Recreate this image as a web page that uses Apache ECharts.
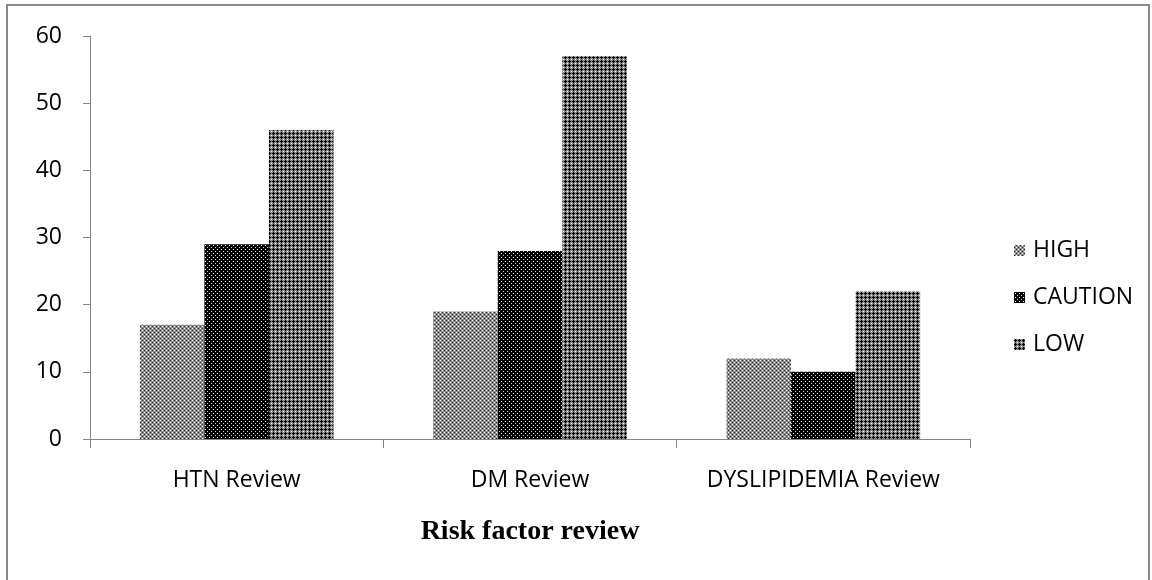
<!DOCTYPE html>
<html><head><meta charset="utf-8">
<script src="https://cdn.jsdelivr.net/npm/echarts@6/dist/echarts.min.js"></script>
<style>html,body{margin:0;padding:0;background:#fff}#c{width:1152px;height:580px}</style>
</head><body><div id="c"></div>
<script>
const categories = ['HTN Review', 'DM Review', 'DYSLIPIDEMIA Review'];
const seriesNames = ['HIGH', 'CAUTION', 'LOW'];
const highValues = [17, 19, 12];
const cautionValues = [29, 28, 10];
const lowValues = [46, 57, 22];
const yTicks = [0, 10, 20, 30, 40, 50, 60];

function pattern(size, bg, pix) {
  const c = document.createElement('canvas');
  c.width = size; c.height = size;
  const g = c.getContext('2d');
  g.fillStyle = bg; g.fillRect(0, 0, size, size);
  pix.forEach(p => { g.fillStyle = p[2]; g.fillRect(p[0], p[1], 1, 1); });
  return { image: c, repeat: 'repeat' };
}
const W = '#ffffff', B = '#000000';
const highPat = pattern(4, '#8c8c8c', [[0,0,W],[2,2,W],[2,0,'#333'],[0,2,'#333']]);
const cautionPat = pattern(4, '#000', [[1,1,W],[3,3,'#cfcfcf']]);
const lowPat = pattern(4, '#8a8a8a', [[1,0,B],[0,1,B],[1,1,B],[2,1,B],[1,2,B],[3,3,W]]);
const pats = [highPat, cautionPat, lowPat];
const dataArr = [highValues, cautionValues, lowValues];

const chart = echarts.init(document.getElementById('c'));
chart.setOption({
  animation: false,
  textStyle: { fontFamily: 'Open Sans' },
  graphic: [{ type: 'rect', shape: { x: 7, y: 5, width: 1142, height: 580 }, style: { fill: 'none', stroke: '#888', lineWidth: 2 } }],
  grid: { left: 90, right: 182, top: 36, bottom: 141 },
  legend: {
    orient: 'vertical', left: 1009, top: 234, itemWidth: 11, itemHeight: 11, itemGap: 24,
    icon: 'rect', textStyle: { fontSize: 23, color: '#000', fontFamily: 'Open Sans', padding: [0,0,0,3] },
    data: seriesNames.map((n, i) => ({ name: n, itemStyle: { color: pats[i] } }))
  },
  xAxis: {
    type: 'category', data: categories,
    axisLine: { lineStyle: { color: '#868686', width: 1 } },
    axisTick: { show: true, length: 9, lineStyle: { color: '#868686' } },
    axisLabel: { interval: 0, fontSize: 23, color: '#000', margin: 30, fontFamily: 'Open Sans' },
    name: 'Risk factor review', nameLocation: 'middle', nameGap: 79,
    nameTextStyle: { fontFamily: 'Liberation Serif', fontWeight: 'bold', fontSize: 28, color: '#000' }
  },
  yAxis: {
    type: 'value', min: 0, max: 60, interval: 10,
    axisLine: { show: true, lineStyle: { color: '#868686', width: 1 } },
    axisTick: { show: true, length: 7, lineStyle: { color: '#868686' } },
    axisLabel: { fontSize: 23, color: '#000', margin: 28, fontFamily: 'Open Sans',
      formatter: v => yTicks.includes(v) ? String(v) : '' },
    splitLine: { show: false }
  },
  series: seriesNames.map((n, i) => ({
    name: n, type: 'bar', data: dataArr[i], barWidth: '22%', barGap: '0%',
    itemStyle: { color: pats[i] }
  }))
});
</script></body></html>
